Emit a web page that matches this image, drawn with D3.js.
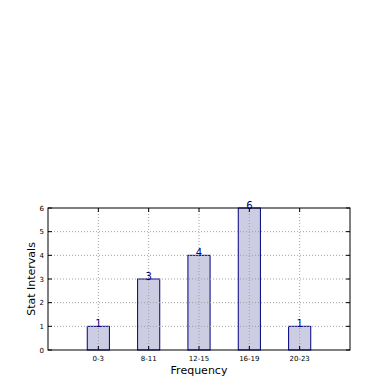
<!DOCTYPE html>
<html>
<head>
<meta charset="utf-8">
<script src="https://cdn.jsdelivr.net/npm/d3@7"></script>
<style>
body { margin: 0; background: #fff; }
text { font-family: "DejaVu Sans", sans-serif; }
</style>
</head>
<body>
<svg class="barsvg" width="390" height="390"></svg>
<script>
var categories = ["0-3", "8-11", "12-15", "16-19", "20-23"];
var counts = [1, 3, 4, 6, 1];
var yTicks = [0, 1, 2, 3, 4, 5, 6];

var svg = d3.select(".barsvg");
var plotL = 48, plotR = 350, plotT = 208, plotB = 350;

var xScale = d3.scaleLinear().domain([-1, categories.length]).range([plotL, plotR]);
var yScale = d3.scaleLinear().domain([0, 6]).range([plotB, plotT]);
var barW = xScale(0.44) - xScale(0);

var g = svg.append("g");

// bars
g.selectAll("rect.bar")
    .data(counts)
    .enter()
    .append("rect")
    .attr("class", "bar")
    .attr("x", function(d, i) { return xScale(i) - barW / 2; })
    .attr("y", function(d) { return yScale(d); })
    .attr("width", barW)
    .attr("height", function(d) { return plotB - yScale(d); })
    .style("fill", "#ccccE2")
    .style("stroke", "#000080")
    .style("stroke-width", 1);

// grid (drawn over bars)
g.selectAll(".hgrid")
    .data(yTicks.slice(1, -1))
    .enter()
    .append("line")
    .attr("x1", plotL).attr("x2", plotR)
    .attr("y1", function(d) { return yScale(d); })
    .attr("y2", function(d) { return yScale(d); })
    .attr("stroke", "#a0a0a0")
    .attr("stroke-dasharray", "1,2");

g.selectAll(".vgrid")
    .data(categories)
    .enter()
    .append("line")
    .attr("x1", function(d, i) { return xScale(i); })
    .attr("x2", function(d, i) { return xScale(i); })
    .attr("y1", plotT).attr("y2", plotB)
    .attr("stroke", "#a0a0a0")
    .attr("stroke-dasharray", "1,2");

// value labels
g.selectAll(".val")
    .data(counts)
    .enter()
    .append("text")
    .attr("x", function(d, i) { return xScale(i); })
    .attr("y", function(d) { return yScale(d) + 1; })
    .attr("text-anchor", "middle")
    .attr("fill", "#000080")
    .style("font-size", "10px")
    .text(function(d) { return d; });

// frame
g.append("rect")
    .attr("x", plotL).attr("y", plotT)
    .attr("width", plotR - plotL).attr("height", plotB - plotT)
    .attr("fill", "none")
    .attr("stroke", "#000")
    .attr("stroke-width", 1);

// y ticks
var yAxis = g.append("g");
yTicks.forEach(function(t) {
    yAxis.append("line")
        .attr("x1", plotL).attr("x2", plotL + 4)
        .attr("y1", yScale(t)).attr("y2", yScale(t))
        .attr("stroke", "#000");
    yAxis.append("line")
        .attr("x1", plotR).attr("x2", plotR - 4)
        .attr("y1", yScale(t)).attr("y2", yScale(t))
        .attr("stroke", "#000");
    yAxis.append("text")
        .attr("x", plotL - 4)
        .attr("y", yScale(t) + 2.5)
        .attr("text-anchor", "end")
        .style("font-size", "7px")
        .text(t);
});

// x ticks
var xAxis = g.append("g");
categories.forEach(function(c, i) {
    xAxis.append("line")
        .attr("x1", xScale(i)).attr("x2", xScale(i))
        .attr("y1", plotB).attr("y2", plotB - 4)
        .attr("stroke", "#000");
    xAxis.append("line")
        .attr("x1", xScale(i)).attr("x2", xScale(i))
        .attr("y1", plotT).attr("y2", plotT + 4)
        .attr("stroke", "#000");
    xAxis.append("text")
        .attr("x", xScale(i))
        .attr("y", plotB + 11)
        .attr("text-anchor", "middle")
        .style("font-size", "7px")
        .text(c);
});

svg.append("text")
    .attr("x", (plotL + plotR) / 2)
    .attr("y", 374)
    .attr("text-anchor", "middle")
    .style("font-size", "11px")
    .text("Frequency");

svg.append("text")
    .attr("transform", "translate(35," + ((plotT + plotB) / 2) + ") rotate(-90)")
    .attr("text-anchor", "middle")
    .style("font-size", "11px")
    .text("Stat Intervals");
</script>
</body>
</html>
